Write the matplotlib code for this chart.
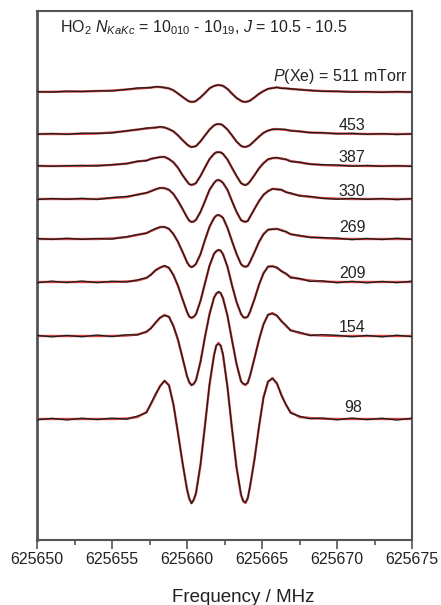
import matplotlib
matplotlib.use("Agg")
import matplotlib.pyplot as plt
from matplotlib.ticker import MultipleLocator, FormatStrFormatter

plt.rcParams["font.family"] = ["Liberation Sans", "DejaVu Sans"]
plt.rcParams["mathtext.fontset"] = "custom"
plt.rcParams["mathtext.rm"] = "Liberation Sans"
plt.rcParams["mathtext.it"] = "Liberation Sans:italic"
plt.rcParams["mathtext.bf"] = "Liberation Sans:bold"

#=================
# data (signal in arbitrary units)
#=================
freq = [
    625650, 625651, 625652, 625653, 625654, 625655, 625656, 625656.7,
    625657.3, 625657.6, 625657.9, 625658.2, 625658.5, 625658.8, 625659.1, 625659.4,
    625659.7, 625660.0,
    625660.15, 625660.3, 625660.45, 625660.6, 625660.9, 625661.2, 625661.5, 625661.8,
    625661.95, 625662.1, 625662.25, 625662.4, 625662.7, 625663.0, 625663.3, 625663.6,
    625663.75, 625663.9, 625664.05,
    625664.2, 625664.5, 625664.8, 625665.1, 625665.4, 625665.7, 625666.0, 625666.3,
    625666.6, 625666.9,
    625667.5, 625668.2, 625669, 625670, 625671, 625672, 625673, 625674, 625675,
]

pressure = ["511", "453", "387", "330", "269", "209", "154", "98"]

fit_511 = [0, 0.2, 0.4, 0.6, 0.9, 1.4, 2.5, 3.5,
           4, 4.5, 5, 5, 4.5, 3.5, 1.5, -1.5, -5, -8,
           -9.5, -10, -9.7, -9, -5.5, -1, 3.5, 6, 6.7, 7, 6.7, 6, 3, -1.5, -6, -9, -9.7, -10, -9.5,
           -8.5, -5.5, -2, 1, 3, 4, 4.5, 4, 3.5, 3,
           2.5, 1.5, 1, 0.5, 0.3, 0, 0, 0, 0]
fit_453 = [0, 0, 0, 0.2, 0.5, 1.5, 3, 4.5,
           5.5, 6, 6.5, 7, 6.5, 5, 2.5, -1.5, -6, -10.5,
           -12.3, -13, -12.7, -12, -7.5, -1.5, 4.5, 8.5, 9.6, 10, 9.6, 8.5, 4.5, -1.5, -7.5, -12, -12.7, -13, -12.4,
           -11, -7, -2.5, 1, 3.5, 4.5, 5, 4.5, 4, 3.5,
           2.5, 1.5, 1, 0.5, 0.2, 0, 0, 0, 0]
fit_387 = [0, 0, 0, 0, 0.5, 1, 2.5, 4.5,
           5.5, 7, 8, 9, 9, 7, 3.5, -2, -9, -15.5,
           -18, -19, -18.5, -17, -10, -1.5, 7, 12, 13.5, 14, 13.5, 12, 6.5, -2, -10, -17, -18.5, -19, -18,
           -15.5, -9, -2.5, 3, 6.5, 8, 8, 7.5, 6.5, 5,
           3.5, 2, 1, 0.5, 0.2, 0, 0, 0, 0]
fit_330 = [0, 0, 0, 0, 0, 1, 2, 4.5,
           6, 8, 9.5, 11, 11, 9, 5, -2, -10, -18,
           -21.8, -23, -22.4, -21, -13, -2, 9, 16, 18.2, 19, 18.2, 16, 9, -2, -13, -21, -22.4, -23, -21.8,
           -18, -10, -2, 4, 8, 10, 10, 9, 7, 5.5,
           3.5, 2, 1, 0.3, 0, 0, 0, 0, 0]
fit_269 = [0, 0, 0, 0, 0, 0.5, 2, 4,
           6, 8, 10, 12, 12, 10, 5, -3, -13, -23,
           -26.8, -28, -27.2, -25, -15, -1, 12, 21, 23.2, 24, 23.2, 21, 11, -2, -15, -25, -27.2, -28, -26.8,
           -23, -13, -3, 5, 9, 10, 10, 9, 7, 5,
           3, 2, 1, 0.3, 0, 0, 0, 0, 0]
fit_209 = [0, 0, 0, 0, 0, 0, 0.5, 1.5,
           4, 7.5, 11.5, 14.5, 16, 14, 7, -4, -17, -30,
           -34.5, -36, -35, -32, -19, -1, 16, 28, 31, 32, 31, 28, 15, -3, -20, -32, -35, -36, -34.5,
           -30, -17, -3, 9, 15, 16, 14, 11, 8, 5,
           3, 1.5, 0.5, 0, 0, 0, 0, 0, 0]
fit_154 = [0, 0, 0, 0, 0, 0, 0.5, 1.5,
           4, 8, 13, 18, 21, 19, 10, -4, -22, -40,
           -46.5, -49, -48, -44, -26, -1, 22, 38, 42.5, 44, 42.5, 38, 20, -4, -28, -45, -48, -49, -46.5,
           -40, -22, -4, 12, 21, 23, 20, 15, 10, 6,
           3, 1, 0.5, 0, 0, 0, 0, 0, 0]
fit_98 = [0, 0, 0, 0, 0, 0, 0.5, 2,
          7, 15, 24, 33, 38, 34, 14, -14, -44, -70,
          -80, -84, -81, -74, -46, -6, 34, 64, 73, 76, 73, 64, 32, -10, -48, -76, -82, -84, -79,
          -68, -40, -8, 22, 37, 41, 35, 24, 14, 7,
          2, 1, 0.3, 0, 0, 0, 0, 0, 0]

# measured minus fit (noise on the black trace)
resid_511 = [0.4, -0.3, 0.5, -0.2, 0.3, -0.4, 0.2, 0.5, 0.3, -0.2,
             0.4, 0.1, -0.3, 0.2, 0.4, -0.2, 0.3, -0.4, 0.1, 0.3,
             -0.2, 0.2, 0.4, -0.1, 0.3, 0.1, -0.3, 0.2, -0.2, 0.4,
             0.1, -0.3, 0.2, 0.4, -0.2, 0.3, 0.1, -0.4, 0.2, 0.5,
             -0.3, 0.4, -0.2, 0.3, -0.5, 0.2, 0.4, -0.3, 0.2, -0.4,
             0.3, -0.5, 0.4, -0.3, 0.5, -0.2]
resid_453 = [-0.3, 0.5, -0.4, 0.6, 0.2, -0.5, 0.3, -0.2, 0.4, 0.2,
             -0.3, 0.3, 0.1, -0.4, 0.2, 0.4, -0.3, 0.2, 0.5, -0.2,
             0.1, -0.3, 0.3, 0.2, -0.4, 0.3, 0.1, -0.2, 0.4, 0.2,
             -0.3, 0.3, -0.1, 0.4, -0.3, 0.2, 0.5, -0.2, 0.3, -0.4,
             0.5, -0.3, 0.4, -0.5, 0.3, 0.6, -0.4, 0.3, -0.2, 0.4,
             -0.4, 0.5, -0.3, 0.4, -0.6, 0.3]
resid_387 = [0.5, -0.4, 0.3, 0.6, -0.5, 0.4, -0.2, 0.3, -0.3, 0.4,
             0.2, -0.3, 0.4, -0.2, 0.3, 0.5, -0.3, 0.2, -0.4, 0.3,
             0.4, -0.2, 0.1, 0.3, -0.3, 0.2, 0.4, -0.4, 0.2, 0.3,
             -0.2, 0.4, 0.3, -0.3, 0.2, -0.4, 0.3, 0.2, -0.3, 0.4,
             -0.5, 0.4, -0.3, 0.6, -0.4, 0.3, -0.6, 0.5, -0.3, 0.4,
             0.5, -0.4, 0.6, -0.3, 0.4, -0.5]
resid_330 = [-0.6, 0.5, -0.3, 0.7, -0.5, 0.4, 0.6, -0.4, 0.3, -0.5,
             0.4, 0.2, -0.4, 0.5, -0.3, 0.2, 0.4, -0.5, 0.3, 0.2,
             -0.4, 0.5, 0.3, -0.3, 0.4, -0.2, 0.5, 0.3, -0.4, 0.2,
             0.4, -0.3, 0.5, -0.2, 0.3, 0.4, -0.5, 0.3, 0.2, -0.4,
             0.6, -0.5, 0.4, -0.7, 0.5, -0.3, 0.6, -0.5, 0.7, -0.4,
             -0.5, 0.6, -0.4, 0.5, -0.7, 0.4]
resid_269 = [0.6, -0.5, 0.8, -0.4, 0.5, -0.6, 0.3, 0.5, -0.4, 0.3,
             0.5, -0.3, 0.2, 0.4, -0.5, 0.3, 0.6, -0.3, 0.4, -0.5,
             0.3, 0.5, -0.4, 0.2, 0.5, -0.3, 0.4, 0.2, -0.5, 0.4,
             0.3, -0.4, 0.5, -0.3, 0.2, 0.5, -0.4, 0.3, -0.5, 0.4,
             -0.6, 0.7, -0.5, 0.4, -0.8, 0.6, -0.4, 0.7, -0.6, 0.5,
             0.6, -0.7, 0.5, -0.6, 0.8, -0.5]
resid_209 = [-0.8, 0.9, -0.6, 1.0, -0.7, 0.8, -0.5, 0.6, 0.4, -0.5,
             0.6, -0.4, 0.5, 0.3, -0.6, 0.5, -0.3, 0.6, -0.5, 0.4,
             0.6, -0.4, 0.3, -0.5, 0.6, 0.4, -0.5, 0.3, 0.6, -0.4,
             0.5, -0.6, 0.4, 0.3, -0.5, 0.6, -0.3, 0.5, -0.4, 0.6,
             -0.7, 0.8, -0.6, 0.9, -0.5, 0.7, -0.9, 0.6, -1.0, 0.7,
             -0.8, 0.7, -0.9, 0.6, -0.7, 0.9]
resid_154 = [0.7, -0.9, 0.6, -0.8, 1.0, -0.6, 0.8, -0.5, 0.6, -0.4,
             0.5, 0.6, -0.5, 0.4, -0.6, 0.5, 0.7, -0.4, 0.6, -0.5,
             0.4, -0.6, 0.7, 0.5, -0.4, 0.6, -0.5, 0.4, 0.7, -0.6,
             0.5, -0.4, 0.6, -0.5, 0.4, 0.6, -0.7, 0.5, -0.4, 0.6,
             -0.8, 0.6, -0.9, 0.7, -0.6, 1.0, -0.7, 0.8, -0.6, 0.9,
             0.7, -0.8, 0.6, -0.9, 0.8, -0.7]
resid_98 = [-0.9, 0.7, -1.0, 0.8, -0.6, 0.9, -0.7, 1.0, -0.8, 0.6,
            0.9, -0.7, 0.6, -0.9, 0.8, -0.6, 1.0, -0.8, 1.2, -0.7,
            0.8, -0.6, 0.9, -0.7, 1.0, -0.8, 0.7, -0.9, 0.6, 1.1,
            -0.8, 0.7, -0.6, 0.9, -0.7, 0.8, -0.6, 0.9, -0.8, 0.7,
            -1.0, 0.8, -0.7, 1.1, -0.9, 0.7, -1.2, 0.9, -0.8, 0.7,
            -0.9, 1.0, -0.7, 0.8, -1.1, 0.9]

fits = [fit_511, fit_453, fit_387, fit_330, fit_269, fit_209, fit_154, fit_98]
resids = [resid_511, resid_453, resid_387, resid_330, resid_269, resid_209, resid_154, resid_98]

#=================
# plot
#=================
fig = plt.figure(figsize=(4.41, 6.05), dpi=100)
ax = fig.add_axes([37 / 441, 65 / 605, 375 / 441, 529 / 605])

# vertical stacking (1 unit = 1 px)
trace_offset = [448, 406, 374, 341, 301, 258, 204, 121]
label_offset = [9, 9, 9, 7, 11, 9, 8, 11]

for fit, resid, base in zip(fits, resids, trace_offset):
    measured = [base + f + r for f, r in zip(fit, resid)]
    model = [base + f for f in fit]
    ax.plot(freq, model, color="#cc2a2a", lw=1.7, alpha=0.9, zorder=2)
    ax.plot(freq, measured, color="#1c1c1c", lw=0.9, zorder=3)

for i, (p, base) in enumerate(zip(pressure, trace_offset)):
    if i == 0:
        ax.text(625674.75, base + 15, r"$P$(Xe) = " + p + " mTorr",
                ha="right", va="center", fontsize=11.5, color="#222222")
    else:
        x = 625671.0 if p != "98" else 625671.1
        ax.text(x, base + label_offset[i], p, ha="center", va="center",
                fontsize=11.5, color="#222222")

ax.text(625651.5, 512,
        r"HO$_2$ $N_{KaKc}$ = 10$_{010}$ - 10$_{19}$, $J$ = 10.5 - 10.5",
        ha="left", va="center", fontsize=11.5, color="#222222")

ax.set_xlim(625650, 625675)
ax.set_ylim(0, 529)
ax.xaxis.set_major_locator(MultipleLocator(5))
ax.xaxis.set_minor_locator(MultipleLocator(2.5))
ax.xaxis.set_major_formatter(FormatStrFormatter("%d"))
ax.tick_params(axis="x", which="major", direction="out", length=6.5, width=1.2,
               color="#555555", labelsize=11.5, pad=2, labelcolor="#222222")
ax.tick_params(axis="x", which="minor", direction="out", length=3.6, width=1.2,
               color="#555555")
ax.tick_params(axis="y", left=False, labelleft=False)
for s in ax.spines.values():
    s.set_color("#555555")
    s.set_linewidth(1.5)
ax.spines["left"].set_linewidth(2.0)

fig.text(243 / 441, 1 - 597 / 605, "Frequency / MHz", ha="center", va="center",
         fontsize=13.5, color="#222222")

fig.savefig("out.png", dpi=100)
